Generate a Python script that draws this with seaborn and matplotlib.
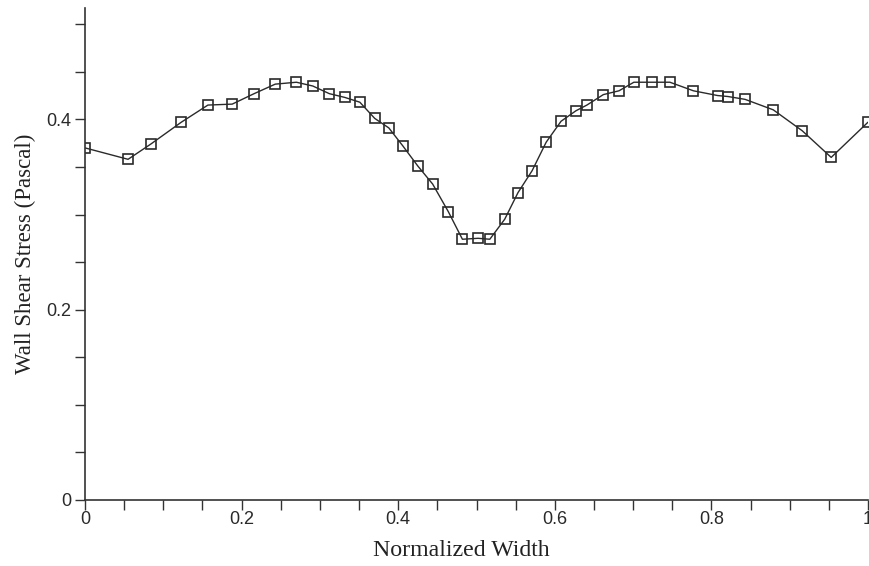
import matplotlib
matplotlib.use("Agg")
import matplotlib.pyplot as plt
from matplotlib.ticker import MultipleLocator, FixedLocator
import seaborn as sns
import pandas as pd

# Data
width = [0.000, 0.055, 0.084, 0.123, 0.157, 0.188, 0.216, 0.243, 0.270, 0.291,
         0.312, 0.332, 0.351, 0.370, 0.388, 0.406, 0.425, 0.444, 0.464, 0.482,
         0.502, 0.517, 0.536, 0.553, 0.571, 0.589, 0.608, 0.627, 0.641, 0.662,
         0.682, 0.701, 0.724, 0.747, 0.777, 0.808, 0.821, 0.843, 0.879, 0.916,
         0.953, 1.000]
stress = [0.370, 0.358, 0.374, 0.397, 0.415, 0.416, 0.427, 0.437, 0.439, 0.435,
          0.427, 0.423, 0.418, 0.401, 0.391, 0.372, 0.351, 0.332, 0.303, 0.274,
          0.275, 0.274, 0.295, 0.323, 0.346, 0.376, 0.398, 0.409, 0.415, 0.426,
          0.430, 0.439, 0.439, 0.439, 0.430, 0.425, 0.424, 0.421, 0.410, 0.388,
          0.360, 0.397]
xtick_vals = [0, 0.2, 0.4, 0.6, 0.8, 1.0]
xtick_labels = ["0", "0.2", "0.4", "0.6", "0.8", "1"]
ytick_vals = [0, 0.2, 0.4]
ytick_labels = ["0", "0.2", "0.4"]

df = pd.DataFrame({"Normalized Width": width, "Wall Shear Stress (Pascal)": stress})

sns.set_style("white")
plt.rcParams["font.family"] = ["Liberation Sans", "DejaVu Sans"]

fig = plt.figure(figsize=(8.7, 5.66), dpi=100)
ax = fig.add_axes([85 / 870, 1 - 500 / 566, 783 / 870, 492 / 566])

ink = "#2a2a2a"
sns.lineplot(data=df, x="Normalized Width", y="Wall Shear Stress (Pascal)",
             sort=False, ax=ax, color=ink, linewidth=1.0,
             marker="s", markersize=7.5, markerfacecolor="none",
             markeredgecolor=ink, markeredgewidth=1.2)

ax.set_xlim(0, 1.0)
ax.set_ylim(0, 0.517)

ax.xaxis.set_major_locator(FixedLocator(xtick_vals))
ax.set_xticklabels(xtick_labels)
ax.xaxis.set_minor_locator(MultipleLocator(0.05))
ax.yaxis.set_major_locator(FixedLocator(ytick_vals))
ax.set_yticklabels(ytick_labels)
ax.yaxis.set_minor_locator(MultipleLocator(0.05))

for side in ["top", "right"]:
    ax.spines[side].set_visible(False)
for side in ["left", "bottom"]:
    ax.spines[side].set_color("#333333")
    ax.spines[side].set_linewidth(1.2)

ax.tick_params(axis="both", which="both", direction="out", color="#333333",
               width=1.0, labelsize=13, labelcolor="#2a2a2a")
ax.tick_params(axis="x", which="both", length=7, pad=1.0, bottom=True)
ax.tick_params(axis="y", which="both", length=7.5, pad=2.5, left=True)

serif = ["Liberation Serif", "DejaVu Serif"]
ax.set_xlabel("Normalized Width", family=serif, fontsize=17.2, color="#222222")
ax.set_ylabel("Wall Shear Stress (Pascal)", family=serif, fontsize=16.5,
              color="#222222")
ax.xaxis.set_label_coords((461 - 85) / 783, -40 / 492)
ax.yaxis.set_label_coords((36 - 85) / 783, (500 - 254) / 492)

fig.savefig("out.png", dpi=100)
